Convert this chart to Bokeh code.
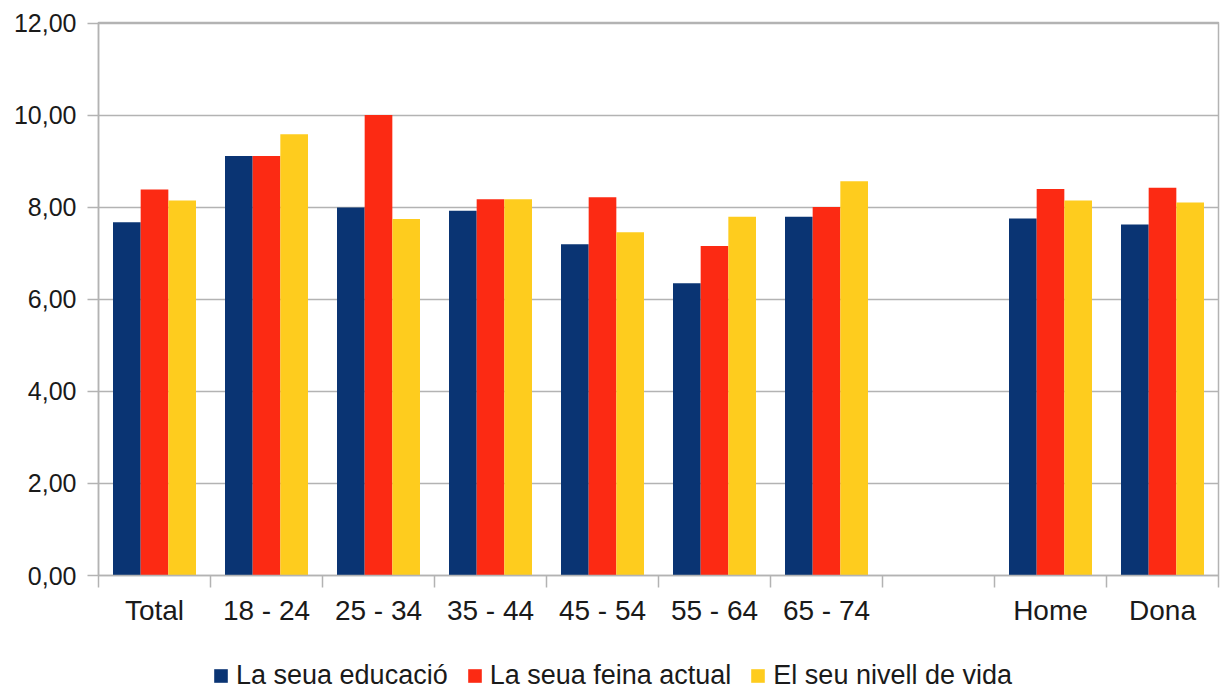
from bokeh.plotting import figure
from bokeh.layouts import column
from bokeh.models import ColumnDataSource, FixedTicker, Range1d, Legend, LegendItem
from bokeh.transform import dodge
from bokeh.embed import file_html
from bokeh.resources import INLINE

categories = ["Total", "18 - 24", "25 - 34", "35 - 44", "45 - 54", "55 - 64", "65 - 74", "", "Home", "Dona"]
nan = float("nan")
educacio = [7.68, 9.12, 8.00, 7.93, 7.20, 6.35, 7.80, nan, 7.76, 7.63]
feina = [8.39, 9.12, 10.01, 8.18, 8.22, 7.16, 8.01, nan, 8.40, 8.43]
nivell = [8.15, 9.59, 7.75, 8.18, 7.46, 7.80, 8.57, nan, 8.15, 8.11]
series_names = ["La seua educació", "La seua feina actual", "El seu nivell de vida"]
colors = ["#0a3473", "#fc2a13", "#fecc1e"]
y_ticks = [0, 2, 4, 6, 8, 10, 12]

FONT = "Liberation Sans"
GRID = "#b3b3b3"
TXT = "#1a1a1a"

xpos = [i + 0.5 for i in range(len(categories))]
src = ColumnDataSource(dict(x=xpos, edu=educacio, fei=feina, niv=nivell))

p = figure(width=1221, height=645, output_backend="svg", toolbar_location=None,
           x_range=Range1d(0, len(categories)), y_range=Range1d(0, 12.02))
p.min_border_left = 98
p.min_border_right = 3
p.min_border_top = 22
p.min_border_bottom = 70
p.background_fill_color = "white"
p.border_fill_color = "white"
p.outline_line_color = GRID
p.outline_line_width = 1.5

bw = 0.247
for field, off, col in zip(["edu", "fei", "niv"], [-bw, 0, bw], colors):
    p.vbar(x=dodge("x", off), top=field, bottom=0, width=bw, source=src,
           fill_color=col, line_color=None)

# x axis
p.xaxis.ticker = FixedTicker(ticks=xpos, minor_ticks=list(range(len(categories) + 1)))
p.xaxis.major_label_overrides = {x: c for x, c in zip(xpos, categories)}
p.xaxis.major_tick_line_color = None
p.xaxis.major_tick_out = 12
p.xaxis.major_tick_in = 0
p.xaxis.minor_tick_out = 12
p.xaxis.minor_tick_in = 0
p.xaxis.minor_tick_line_color = GRID
p.xaxis.minor_tick_line_width = 1.5
p.xaxis.axis_line_color = GRID
p.xaxis.axis_line_width = 1.5
p.xaxis.major_label_standoff = 7
p.xaxis.major_label_text_font = FONT
p.xaxis.major_label_text_font_size = "28px"
p.xaxis.major_label_text_color = TXT

# y axis
p.yaxis.ticker = FixedTicker(ticks=y_ticks, minor_ticks=[])
p.yaxis.major_label_overrides = {t: f"{t:.2f}".replace(".", ",") for t in y_ticks}
p.yaxis.major_tick_out = 11
p.yaxis.major_tick_in = 0
p.yaxis.major_tick_line_color = GRID
p.yaxis.major_tick_line_width = 1.5
p.yaxis.minor_tick_line_color = None
p.yaxis.axis_line_color = GRID
p.yaxis.axis_line_width = 1.5
p.yaxis.major_label_standoff = 11
p.yaxis.major_label_text_font = FONT
p.yaxis.major_label_text_font_size = "25px"
p.yaxis.major_label_text_color = TXT

p.xgrid.grid_line_color = None
p.ygrid.ticker = FixedTicker(ticks=y_ticks)
p.ygrid.grid_line_color = GRID
p.ygrid.grid_line_width = 1.5

# legend strip below the chart (swatch renderers sit outside the visible range)
lg = figure(width=1221, height=46, output_backend="svg", toolbar_location=None,
            x_range=Range1d(0, 1), y_range=Range1d(0, 1))
lg.min_border = 0
lg.axis.visible = False
lg.grid.visible = False
lg.outline_line_color = None
swatches = []
for col in colors:
    swatches.append(lg.vbar(x=[-5], top=[-5], bottom=[-6], width=0.1, fill_color=col, line_color=None))

legend = Legend(items=[LegendItem(label=n, renderers=[r]) for n, r in zip(series_names, swatches)],
                orientation="horizontal", location=(114, 0),
                glyph_width=17, glyph_height=17, label_standoff=7, spacing=18,
                padding=0, margin=0, border_line_color=None, background_fill_alpha=0,
                label_text_font=FONT, label_text_font_size="27px", label_text_color=TXT)
lg.add_layout(legend, "center")

layout = column(p, lg, spacing=0)
open("out.html", "w").write(file_html(layout, INLINE))
